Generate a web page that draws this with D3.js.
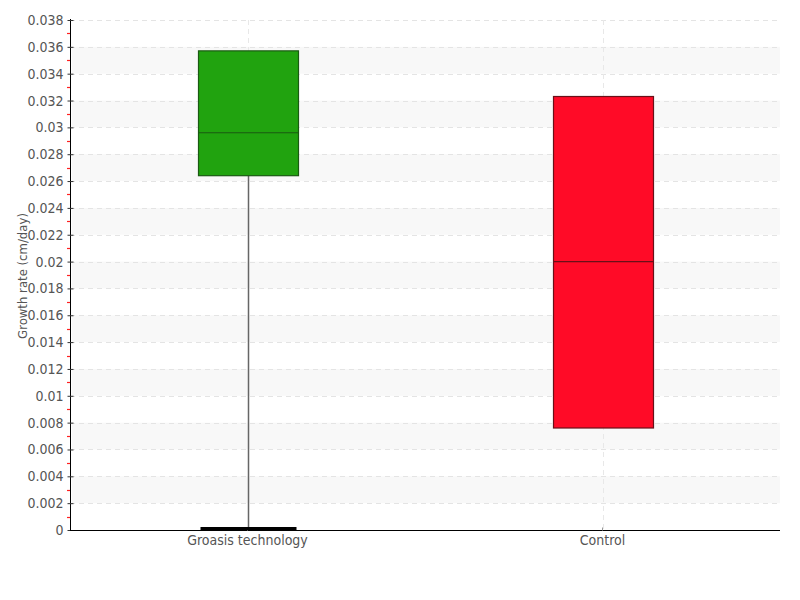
<!DOCTYPE html>
<html><head><meta charset="utf-8">
<script src="https://cdn.jsdelivr.net/npm/d3@7"></script>
<style>body{margin:0;background:#fff}svg{display:block}text{font-family:"DejaVu Sans Condensed","DejaVu Sans",sans-serif;font-stretch:condensed;fill:#555}</style>
</head><body><svg id="c" width="800" height="600"></svg>
<script>
const categories = ["Groasis technology", "Control"];
const minVals = [0, 0.0076];
const q1Vals = [0.0264, 0.0076];
const medianVals = [0.0296, 0.0200];
const q3Vals = [0.0357, 0.0323];
const maxVals = [0.0357, 0.0323];
const colors = ["#21a30f", "#ff0b27"];
const strokes = ["#1a5a12", "#6a1018"];
const yTicks = d3.range(0, 0.0381, 0.002);
const yMinor = d3.range(0.001, 0.038, 0.002);
const yLabel = "Growth rate (cm/day)";

const svg = d3.select("#c");
const L = 70, R = 780, T = 20, B = 530;
const y = d3.scaleLinear().domain([0, 0.038]).range([B, T]);
const x = d3.scaleBand().domain(categories).range([L, R]);

// stripes
const stripes = [];
for (let i = 0; i < yTicks.length - 1; i++) if (i % 2 === 1) stripes.push([yTicks[i], yTicks[i + 1]]);
svg.append("g").selectAll("rect").data(stripes).join("rect")
  .attr("x", L + 2).attr("width", R - L - 2)
  .attr("y", d => y(d[1])).attr("height", d => y(d[0]) - y(d[1]))
  .attr("fill", "#f8f8f8");

// grid
svg.append("g").selectAll("line").data(yTicks.slice(1)).join("line")
  .attr("x1", L).attr("x2", R).attr("y1", d => Math.round(y(d)) + 0.5).attr("y2", d => Math.round(y(d)) + 0.5)
  .attr("stroke", "#e4e4e4").attr("stroke-dasharray", "5,4");
svg.append("g").selectAll("line").data(categories).join("line")
  .attr("x1", d => Math.round(x(d) + x.bandwidth() / 2) + 0.5).attr("x2", d => Math.round(x(d) + x.bandwidth() / 2) + 0.5)
  .attr("y1", T).attr("y2", B).attr("stroke", "#e8e8e8").attr("stroke-dasharray", "5,4");

// minor ticks
svg.append("g").selectAll("line").data(yMinor).join("line")
  .attr("x1", L - 3).attr("x2", L).attr("y1", d => Math.round(y(d)) + 0.5).attr("y2", d => Math.round(y(d)) + 0.5)
  .attr("stroke", "#ff2020").attr("stroke-width", 1.2);

// y axis
const ya = svg.append("g").attr("transform", `translate(${L + 0.5},0)`)
  .call(d3.axisLeft(y).tickValues(yTicks).tickFormat(d => +d.toFixed(3) + "").tickSize(3).tickPadding(4));
ya.select(".domain").attr("stroke", "#000").attr("d", `M0,${T - 1}V${B}`);
ya.selectAll(".tick line").attr("stroke", "#333").attr("x1", 3);
ya.selectAll(".tick text").style("font-size", "14px").attr("fill", "#555");

// x axis
const xa = svg.append("g").attr("transform", `translate(0,${B + 0.5})`)
  .call(d3.axisBottom(x).tickSize(3).tickPadding(2));
xa.select(".domain").attr("stroke", "#000").attr("d", `M${L},0H${R}`);
xa.selectAll(".tick line").attr("stroke", "#999").attr("y1", -3).attr("y2", 0);
xa.selectAll(".tick text").style("font-size", "14px").attr("fill", "#555");

// y label
svg.append("text").attr("transform", `translate(27,${(T + B) / 2 + 1}) rotate(-90)`)
  .attr("text-anchor", "middle").style("font-size", "13px").text(yLabel);

// boxes
const bw = 100;
const g = svg.append("g");
categories.forEach((c, i) => {
  const cx = Math.round(x(c) + x.bandwidth() / 2) + 0.5;
  if (minVals[i] < q1Vals[i]) {
    g.append("line").attr("x1", cx).attr("x2", cx).attr("y1", y(q1Vals[i])).attr("y2", y(minVals[i]))
      .attr("stroke", "#666").attr("stroke-width", 1.5);
    g.append("line").attr("x1", cx - 48).attr("x2", cx + 48).attr("y1", y(minVals[i]) - 1.5).attr("y2", y(minVals[i]) - 1.5)
      .attr("stroke", "#000").attr("stroke-width", 3);
  }
  if (maxVals[i] > q3Vals[i]) {
    g.append("line").attr("x1", cx).attr("x2", cx).attr("y1", y(q3Vals[i])).attr("y2", y(maxVals[i]))
      .attr("stroke", "#666").attr("stroke-width", 1.5);
    g.append("line").attr("x1", cx - 48).attr("x2", cx + 48).attr("y1", y(maxVals[i])).attr("y2", y(maxVals[i]))
      .attr("stroke", "#000").attr("stroke-width", 3);
  }
  g.append("rect").attr("x", cx - bw / 2).attr("width", bw)
    .attr("y", y(q3Vals[i])).attr("height", y(q1Vals[i]) - y(q3Vals[i]))
    .attr("fill", colors[i]).attr("stroke", strokes[i]).attr("stroke-width", 1.2);
  g.append("line").attr("x1", cx - bw / 2).attr("x2", cx + bw / 2)
    .attr("y1", y(medianVals[i])).attr("y2", y(medianVals[i]))
    .attr("stroke", strokes[i]).attr("stroke-width", 1.2);
});
</script></body></html>
